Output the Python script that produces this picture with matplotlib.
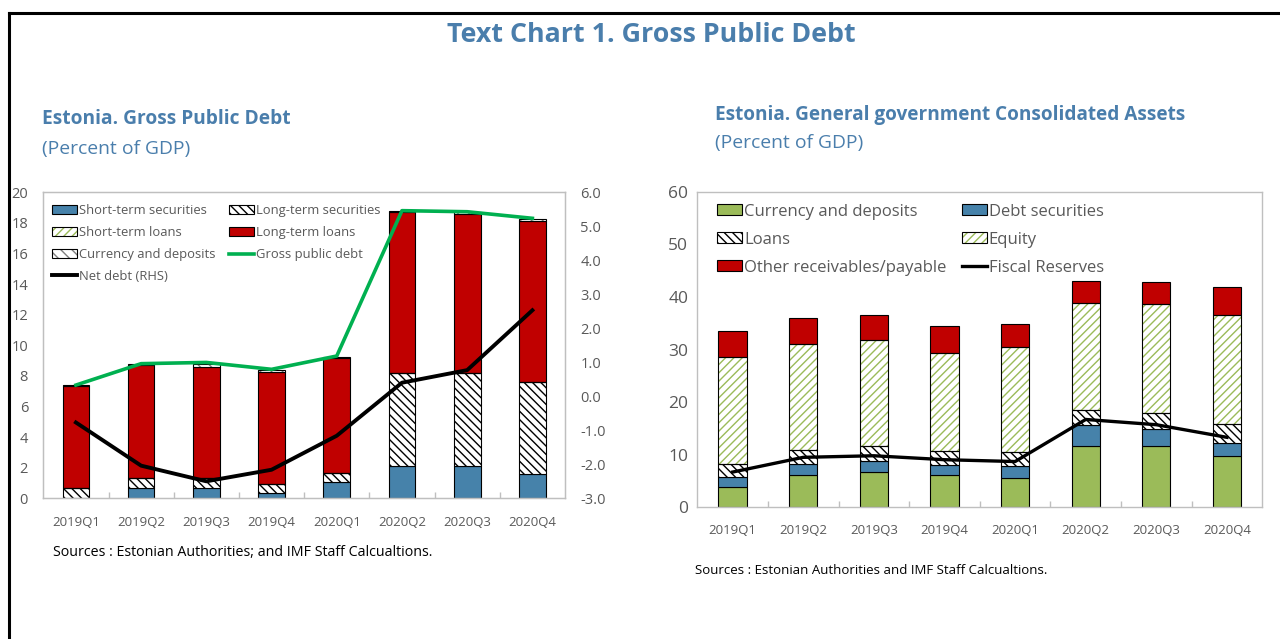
import matplotlib
matplotlib.use("Agg")
import matplotlib.pyplot as plt
from matplotlib.patches import Patch
from matplotlib.lines import Line2D
from matplotlib.legend_handler import HandlerTuple
import numpy as np

plt.rcParams['font.family'] = ['Open Sans', 'DejaVu Sans']
plt.rcParams['hatch.linewidth'] = 1.0

# ---------------- data ----------------
quarters = ["2019Q1", "2019Q2", "2019Q3", "2019Q4", "2020Q1", "2020Q2", "2020Q3", "2020Q4"]

# Left chart: Gross public debt components (percent of GDP)
st_securities = [0.0, 0.66, 0.66, 0.37, 1.09, 2.12, 2.12, 1.57]
lt_securities = [0.66, 0.69, 0.69, 0.55, 0.55, 6.08, 6.08, 6.03]
st_loans = [0.0, 0.0, 0.0, 0.0, 0.0, 0.0, 0.0, 0.0]
lt_loans = [6.66, 7.35, 7.25, 7.34, 7.54, 10.49, 10.40, 10.54]
curr_deposits_debt = [0.08, 0.10, 0.15, 0.14, 0.07, 0.11, 0.08, 0.14]
gross_public_debt = [7.40, 8.80, 8.88, 8.43, 9.30, 18.80, 18.73, 18.30]
net_debt = [-0.77, -2.04, -2.50, -2.16, -1.16, 0.40, 0.77, 2.53]

# Right chart: General government consolidated assets (percent of GDP)
curr_deposits_assets = [3.85, 6.06, 6.63, 6.13, 5.56, 11.70, 11.70, 9.80]
debt_securities = [1.83, 2.23, 2.23, 1.84, 2.22, 4.00, 3.20, 2.40]
loans = [2.61, 2.66, 2.74, 2.73, 2.67, 2.87, 3.00, 3.60]
equity = [20.30, 20.15, 20.30, 18.60, 20.05, 20.33, 20.80, 20.80]
other_receivables = [4.96, 4.87, 4.70, 5.20, 4.30, 4.20, 4.10, 5.20]
fiscal_reserves = [6.70, 9.50, 9.80, 9.05, 8.70, 16.70, 15.70, 13.30]

left_yticks = [0, 2, 4, 6, 8, 10, 12, 14, 16, 18, 20]
right_yticks_rhs = [-3, -2, -1, 0, 1, 2, 3, 4, 5, 6]
assets_yticks = [0, 10, 20, 30, 40, 50, 60]

# ---------------- styles ----------------
TITLE_C = "#4A7EAC"
BLUE = "#4682AA"
RED = "#C00000"
GREEN_LINE = "#00B050"
GREEN_FILL = "#9BBB59"
TICK_C = "#595959"
FRAME_C = "#BFBFBF"

W, H = 1280, 639
fig = plt.figure(figsize=(W / 100, H / 100), dpi=100)


def fx(px):
    return px / W


def fy(py):
    return 1 - py / H


def style_axes(ax, ylab_size, xlab_size, xpad, ypad):
    for s in ax.spines.values():
        s.set_color(FRAME_C)
        s.set_linewidth(1.0)
    ax.tick_params(axis='y', length=0, pad=ypad, labelsize=ylab_size, labelcolor=TICK_C)
    ax.tick_params(axis='x', which='major', length=0, pad=xpad, labelsize=xlab_size, labelcolor=TICK_C)
    ax.set_xticks(np.arange(len(quarters) - 1) + 0.5, minor=True)
    ax.tick_params(axis='x', which='minor', direction='in', length=4, color=FRAME_C, width=1)


def stacked(ax, series, x, width):
    """series: list of (values, face, hatch, hatchcolor)"""
    bottom = np.zeros(len(x))
    handles = []
    for vals, face, hatch, hcol in series:
        vals = np.asarray(vals, dtype=float)
        if hatch:
            ax.bar(x, vals, width, bottom=bottom, color=face, edgecolor=hcol,
                   hatch=hatch, linewidth=0, zorder=2)
            ax.bar(x, vals, width, bottom=bottom, fill=False, edgecolor='black',
                   linewidth=0.8, zorder=2.1)
            h = (Patch(facecolor=face, edgecolor=hcol, hatch=hatch, linewidth=0),
                 Patch(fill=False, edgecolor='black', linewidth=0.8))
        else:
            ax.bar(x, vals, width, bottom=bottom, color=face, edgecolor='black',
                   linewidth=0.8, zorder=2)
            h = Patch(facecolor=face, edgecolor='black', linewidth=0.8)
        handles.append(h)
        bottom = bottom + vals
    return handles


x = np.arange(len(quarters))

# ---------------- left chart ----------------
axL = fig.add_axes([fx(43.3), fy(498.3), fx(565 - 43.3), (498.3 - 192.3) / H])
hL = stacked(axL, [
    (st_securities, BLUE, None, None),
    (lt_securities, 'white', '\\\\\\\\', 'black'),
    (st_loans, 'white', '////', GREEN_FILL),
    (lt_loans, RED, None, None),
    (curr_deposits_debt, 'white', '\\\\\\', '#808080'),
], x, 0.41)
gline, = axL.plot(x, gross_public_debt, color=GREEN_LINE, lw=2.6, zorder=4)
axL.set_xlim(-0.5, len(quarters) - 0.5)
axL.set_ylim(0, 20)
axL.set_yticks(left_yticks)
axL.set_xticks(x)
axL.set_xticklabels(quarters)
style_axes(axL, 10.5, 9.5, 12.5, 11)

axR = axL.twinx()
nline, = axR.plot(x, net_debt, color='black', lw=2.8, zorder=5)
axR.set_ylim(-3, 6)
axR.set_yticks(right_yticks_rhs)
axR.set_yticklabels([f"{v:.1f}" for v in right_yticks_rhs])
for s in axR.spines.values():
    s.set_color(FRAME_C)
axR.tick_params(axis='y', length=0, pad=11, labelsize=10.5, labelcolor=TICK_C)

# column-major order so that the legend reads row by row
labelsL = ["Short-term securities", "Short-term loans", "Currency and deposits", "Net debt (RHS)",
           "Long-term securities", "Long-term loans", "Gross public debt"]
handlesL = [hL[0], hL[2], hL[4], nline, hL[1], hL[3], gline]
legL = axR.legend(handlesL, labelsL, ncol=2, frameon=False, fontsize=9.4,
                  loc='upper left', bbox_to_anchor=(9 / 521.7, 1 - 12 / 306),
                  borderpad=0, borderaxespad=0,
                  handlelength=1.9, handleheight=0.65, handletextpad=0.15,
                  columnspacing=1.05, labelspacing=0.68,
                  handler_map={tuple: HandlerTuple(ndivide=1)})
for t in legL.get_texts():
    t.set_color(TICK_C)

# ---------------- right chart ----------------
axA = fig.add_axes([fx(697.3), fy(507.3), fx(1262.3 - 697.3), (507.3 - 191.7) / H])
hA = stacked(axA, [
    (curr_deposits_assets, GREEN_FILL, None, None),
    (debt_securities, BLUE, None, None),
    (loans, 'white', '\\\\\\\\', 'black'),
    (equity, 'white', '////', GREEN_FILL),
    (other_receivables, RED, None, None),
], x, 0.4)
fline, = axA.plot(x, fiscal_reserves, color='black', lw=2.4, zorder=4)
axA.set_xlim(-0.5, len(quarters) - 0.5)
axA.set_ylim(0, 60)
axA.set_yticks(assets_yticks)
axA.set_xticks(x)
axA.set_xticklabels(quarters)
style_axes(axA, 12.5, 9.5, 12, 6.5)

labelsA = ["Currency and deposits", "Loans", "Other receivables/payable",
           "Debt securities", "Equity", "Fiscal Reserves"]
handlesA = [hA[0], hA[2], hA[4], hA[1], hA[3], fline]
legA = axA.legend(handlesA, labelsA, ncol=2, frameon=False, fontsize=12,
                  loc='upper left', bbox_to_anchor=(20 / 565, 1 - 12 / 315.6),
                  borderpad=0, borderaxespad=0,
                  handlelength=1.5, handleheight=0.65, handletextpad=0.1,
                  columnspacing=0.95, labelspacing=0.72,
                  handler_map={tuple: HandlerTuple(ndivide=1)})
for t in legA.get_texts():
    t.set_color(TICK_C)

# ---------------- texts ----------------
fig.text(fx(651), fy(35), "Text Chart 1. Gross Public Debt", ha='center', va='center',
         fontsize=19.3, fontweight='bold', color=TITLE_C)
fig.text(fx(42), fy(119), "Estonia. Gross Public Debt", ha='left', va='center',
         fontsize=13.8, fontweight='bold', color=TITLE_C)
fig.text(fx(42), fy(149), "(Percent of GDP)", ha='left', va='center',
         fontsize=13.9, color=TITLE_C)
fig.text(fx(715), fy(115), "Estonia. General government Consolidated Assets", ha='left', va='center',
         fontsize=13.7, fontweight='bold', color=TITLE_C)
fig.text(fx(715), fy(143), "(Percent of GDP)", ha='left', va='center',
         fontsize=13.9, color=TITLE_C)
fig.text(fx(53), fy(552), "Sources : Estonian Authorities; and IMF Staff Calcualtions.",
         ha='left', va='center', fontsize=10.3, color='black')
fig.text(fx(695), fy(570), "Sources : Estonian Authorities and IMF Staff Calcualtions.",
         ha='left', va='center', fontsize=9.5, color='black')

# outer border (top and left)
fig.add_artist(Line2D([fx(9), 1.0], [fy(13), fy(13)], transform=fig.transFigure,
                      color='black', lw=2.2))
fig.add_artist(Line2D([fx(9), fx(9)], [fy(13), 0.0], transform=fig.transFigure,
                      color='black', lw=2.2))

fig.savefig("out.png", dpi=100)
